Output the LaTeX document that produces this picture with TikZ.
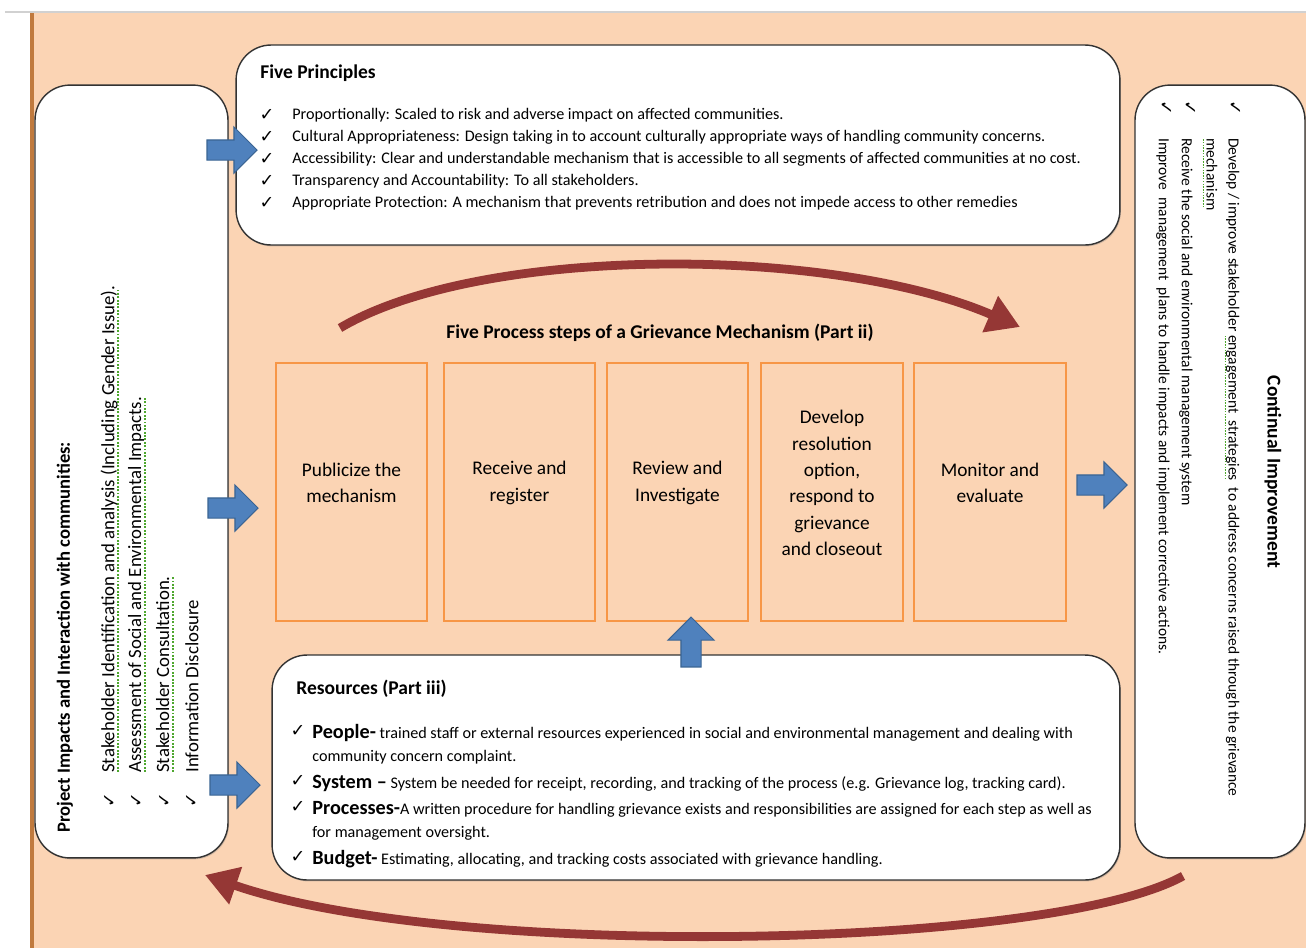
\documentclass[tikz,border=0pt]{standalone}
\usepackage{fontspec}
\setmainfont{Carlito}
\newfontfamily\tickfont{DejaVu Sans}
\usetikzlibrary{shapes.arrows,arrows.meta,shadows}
\definecolor{peach}{HTML}{FBD4B4}
\definecolor{edgebrown}{HTML}{C07A3E}
\definecolor{stepline}{HTML}{F79646}
\definecolor{arrowblue}{HTML}{4F81BD}
\definecolor{arrowblueline}{HTML}{3A6493}
\definecolor{cyclered}{HTML}{953735}
\definecolor{squiggle}{HTML}{4EA72E}
\newsavebox{\grambox}
\newcommand{\tick}{{\tickfont\char"2713}}
\newcommand{\gram}[1]{\sbox{\grambox}{#1}\rlap{\textcolor{squiggle}{\raisebox{-.55ex}{\hbox to \wd\grambox{\leaders\hbox{\kern.04em\rule{.1em}{.1em}\kern.04em}\hfill}}}}\usebox{\grambox}}
\newcommand{\resword}[1]{{\fontsize{11.5}{12}\selectfont\bfseries #1}}
\tikzset{
  roundbox/.style = {draw=black!80, fill=white, rounded corners=0.7cm, line width=0.8pt,
    drop shadow={shadow xshift=0.6pt, shadow yshift=-0.8pt, opacity=0.35}},% white boxes
  stepbox/.style = {draw=stepline, fill=peach, line width=1.6pt, minimum height=5.16cm},% process steps
  steptext/.style = {align=center, inner sep=0pt, font=\fontsize{11}{15}\selectfont},
  boxhead/.style = {anchor=west, inner sep=0pt, font=\fontsize{11.1}{13}\selectfont\bfseries},
  pitem/.style = {anchor=west, inner sep=0pt, font=\fontsize{9.2}{11}\selectfont},
  ritem/.style = {pitem, rotate=-90, font=\fontsize{8.8}{10}\selectfont},% right box lines
  tickmark/.style = {inner sep=0pt, font=\fontsize{10}{12}\selectfont},
  bluearrow/.style = {single arrow, draw=arrowblueline, fill=arrowblue, line width=0.6pt,
    minimum height=1cm, inner xsep=0pt, inner ysep=0.19cm, single arrow head extend=0.26cm},
  cyclearrow/.style = {draw=cyclered, line width=5pt, -{Triangle[length=0.65cm,width=0.75cm]}},
}
\begin{document}
\begin{tikzpicture}[x=0.02cm,y=-0.02cm]
  \useasboundingbox (0,0) rectangle (1306,948);
  % page
  \fill[white] (0,0) rectangle (1306,948);
  \fill[peach] (33,13) rectangle (1306,948);
  \draw[edgebrown, line width=2pt] (32,13) -- (32,948);
  \draw[black!18, line width=1pt] (5,12) -- (1306,12);

  % white boxes
  \node[roundbox, minimum width=17.68cm, minimum height=4cm] (princ) at (678,145) {};
  \node[roundbox, minimum width=3.86cm, minimum height=15.46cm] (impacts) at (131.5,471.5) {};
  \node[roundbox, minimum width=3.4cm, minimum height=15.46cm] (improve) at (1220,471.5) {};
  \node[roundbox, minimum width=16.96cm, minimum height=4.5cm] (res) at (696,767.5) {};

  % five principles
  \node[boxhead] (princt) at (260,73) {Five Principles};
  \foreach \t [count=\i] in {{Proportionally: Scaled to risk and adverse impact on affected communities.},
    {Cultural Appropriateness: Design taking in to account culturally appropriate ways of handling community concerns.},
    {Accessibility: Clear and understandable mechanism that is accessible to all segments of affected communities at no cost.},
    {Transparency and Accountability: To all stakeholders.},
    {Appropriate Protection: A mechanism that prevents retribution and does not impede access to other remedies}}{
    \node[tickmark] (pc\i) at (267,{93+22*\i}) {\tick};
    \node[pitem] (p\i) at (292,{93+22*\i}) {\t};
  }

  % process steps
  \node[boxhead, anchor=center] (stept) at (660,333) {Five Process steps of a Grievance Mechanism (Part ii)};
  \foreach \cx/\w/\n/\txt in {351.5/3.02/1/{Publicize the\\mechanism}, 519.5/3.02/2/{Receive and\\register},
    677.5/2.82/3/{Review and\\Investigate}, 832/2.84/4/{Develop\\resolution\\option,\\respond to\\grievance\\and closeout},
    990/3.04/5/{Monitor and\\evaluate}}{
    \node[stepbox, minimum width=\w cm] (s\n) at (\cx,492) {};
    \node[steptext] (st\n) at (\cx,483) {\txt};
  }

  % project impacts (left)
  \node[boxhead, rotate=90, font=\fontsize{10.6}{12}\selectfont\bfseries] (impt) at (65,833)
    {Project Impacts and Interaction with communities:};
  \foreach \x/\t [count=\i] in {110/{\gram{Stakeholder Identification and analysis (Including Gender Issue).}},
    137/{\gram{Assessment of Social and Environmental Impacts.}}, 165/{\gram{Stakeholder Consultation.}},
    192/{Information Disclosure}}{
    \node[tickmark, rotate=90] (ic\i) at (\x,800) {\tick};
    \node[pitem, rotate=90, font=\fontsize{10.7}{12}\selectfont] (i\i) at (\x,773) {\t};
  }

  % continual improvement (right)
  \node[boxhead, rotate=-90, anchor=center] (cont) at (1273,472) {Continual Improvement};
  \node[tickmark, rotate=-90] (rc1) at (1235,108) {\tick};
  \node[tickmark, rotate=-90] (rc2) at (1190,108) {\tick};
  \node[tickmark, rotate=-90] (rc3) at (1166,108) {\tick};
  \node[ritem] (r1) at (1232,138)
    {Develop / improve stakeholder \gram{engagement\ \ strategies}\ \ to address concerns raised through the grievance};
  \node[ritem] (r1b) at (1210,138) {\gram{mechanism}};
  \node[ritem] (r2) at (1186,138) {Receive the social and environmental management system};
  \node[ritem] (r3) at (1163,138)
    {Improve\ \ management\ \ plans to handle impacts and implement corrective actions.};

  % resources (bottom)
  \node[boxhead] (rest) at (296,689) {Resources (Part iii)};
  \node[tickmark] (bc1) at (298,731) {\tick};
  \node[pitem] (b1) at (312,733) {\resword{People-} trained staff or external resources experienced in social and environmental management and dealing with};
  \node[pitem] (b1b) at (312,757) {community concern complaint.};
  \node[tickmark] (bc2) at (298,781) {\tick};
  \node[pitem] (b2) at (312,783) {\resword{System --} System be needed for receipt, recording, and tracking of the process (e.g. Grievance log, tracking card).};
  \node[tickmark] (bc3) at (298,807) {\tick};
  \node[pitem] (b3) at (312,809) {\resword{Processes-}A written procedure for handling grievance exists and responsibilities are assigned for each step as well as};
  \node[pitem] (b3b) at (312,833) {for management oversight.};
  \node[tickmark] (bc4) at (298,857) {\tick};
  \node[pitem] (b4) at (312,859) {\resword{Budget-} Estimating, allocating, and tracking costs associated with grievance handling.};

  % blue arrows
  \node[bluearrow] (ba1) at (227,150) {};
  \node[bluearrow] (ba2) at (228,508) {};
  \node[bluearrow] (ba3) at (230,785) {};
  \node[bluearrow] (ba4) at (1097,485) {};
  \node[bluearrow, rotate=90] (ba5) at (691,647) {};

  % cycle arrows
  \coordinate (topA) at (340,328);
  \coordinate (topB) at (1020,327);
  \coordinate (botA) at (1183,876);
  \coordinate (botB) at (205,875);
  \draw[cyclearrow] (topA) .. controls (480,245) and (830,245) .. (topB);
  \draw[cyclearrow] (botA) .. controls (1050,950) and (450,960) .. (botB);
\end{tikzpicture}
\end{document}
